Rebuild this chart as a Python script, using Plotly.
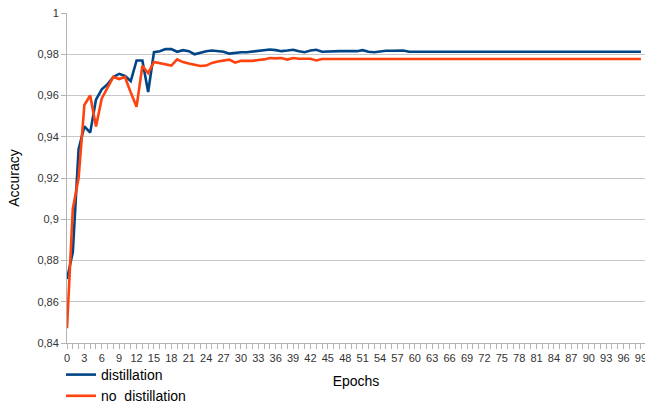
import plotly.graph_objects as go

epochs = list(range(100))

distillation = [
    0.871, 0.884, 0.934, 0.945, 0.942, 0.958, 0.963, 0.9655, 0.969, 0.9705,
    0.9695, 0.967, 0.977, 0.977, 0.9617, 0.981, 0.9815, 0.9825, 0.9825, 0.9812,
    0.982, 0.9815, 0.980, 0.9808, 0.9815, 0.9818, 0.9816, 0.9812, 0.9803, 0.9808,
    0.981, 0.981, 0.9813, 0.9815, 0.982, 0.9823, 0.982, 0.9815, 0.9818, 0.9822,
    0.9815, 0.981, 0.9818, 0.9822, 0.9812, 0.9812, 0.9812, 0.9815, 0.9816, 0.9816,
    0.9815, 0.982, 0.9812, 0.981, 0.9815, 0.9817, 0.9817, 0.9818, 0.9818, 0.9812,
] + [0.9812] * 40

no_distillation = [
    0.8472, 0.905, 0.92, 0.9554, 0.960, 0.945, 0.9586, 0.9635, 0.969, 0.968,
    0.969, 0.9614, 0.9545, 0.9744, 0.9708, 0.9762, 0.9757, 0.9752, 0.9745, 0.9775,
    0.9762, 0.9755, 0.975, 0.9743, 0.9745, 0.9758, 0.9765, 0.9768, 0.9774, 0.9759,
    0.9768, 0.9768, 0.9768, 0.9772, 0.9775, 0.9782, 0.978, 0.9782, 0.9774, 0.9782,
    0.9778, 0.9778, 0.9778, 0.977,
] + [0.9777] * 56

y_ticks = [0.84, 0.86, 0.88, 0.9, 0.92, 0.94, 0.96, 0.98, 1.0]
y_labels = ["0,84", "0,86", "0,88", "0,9", "0,92", "0,94", "0,96", "0,98", "1"]
x_labels = [str(e) if e % 3 == 0 else "" for e in epochs]

fig = go.Figure()
fig.add_trace(go.Scatter(x=epochs, y=distillation, mode="lines", name="distillation",
                         line=dict(color="#004586", width=2.6)))
fig.add_trace(go.Scatter(x=epochs, y=no_distillation, mode="lines", name="no_distillation",
                         line=dict(color="#ff420e", width=2.6)))

fig.update_layout(
    width=645, height=403,
    margin=dict(l=67, r=0, t=13, b=60, autoexpand=False),
    paper_bgcolor="white", plot_bgcolor="white",
    font=dict(family="Liberation Sans, Arial, sans-serif", color="#333333"),
    showlegend=True,
    legend=dict(x=-0.0104, y=-0.0485, xanchor="left", yanchor="top",
                font=dict(size=14, color="#000000"), tracegroupgap=0,
                bgcolor="rgba(0,0,0,0)", itemwidth=30),
    xaxis=dict(
        range=[0, 99.7], tickmode="array", tickvals=epochs, ticktext=x_labels,
        ticks="outside", ticklen=5, tickcolor="#b3b3b3", automargin=False,
        ticklabeloverflow="allow",
        showline=True, linecolor="#b3b3b3", linewidth=1,
        showgrid=False, zeroline=False,
        tickfont=dict(size=11, color="#333333"),
        title=dict(text="Epochs", font=dict(size=14, color="#000000"), standoff=12),
    ),
    yaxis=dict(
        range=[0.84, 1.0], tickmode="array", tickvals=y_ticks, ticktext=y_labels,
        ticks="outside", ticklen=5, tickcolor="#b3b3b3", automargin=False,
        showline=True, linecolor="#b3b3b3", linewidth=1,
        showgrid=True, gridcolor="#c8c8c8", gridwidth=1, zeroline=False,
        tickfont=dict(size=11, color="#333333"),
        title=dict(text="Accuracy", font=dict(size=14, color="#000000"), standoff=14),
    ),
)

fig.write_html("out.html", config={"displayModeBar": False},
               post_script="document.body.style.margin='0';document.body.style.overflow='hidden';")
